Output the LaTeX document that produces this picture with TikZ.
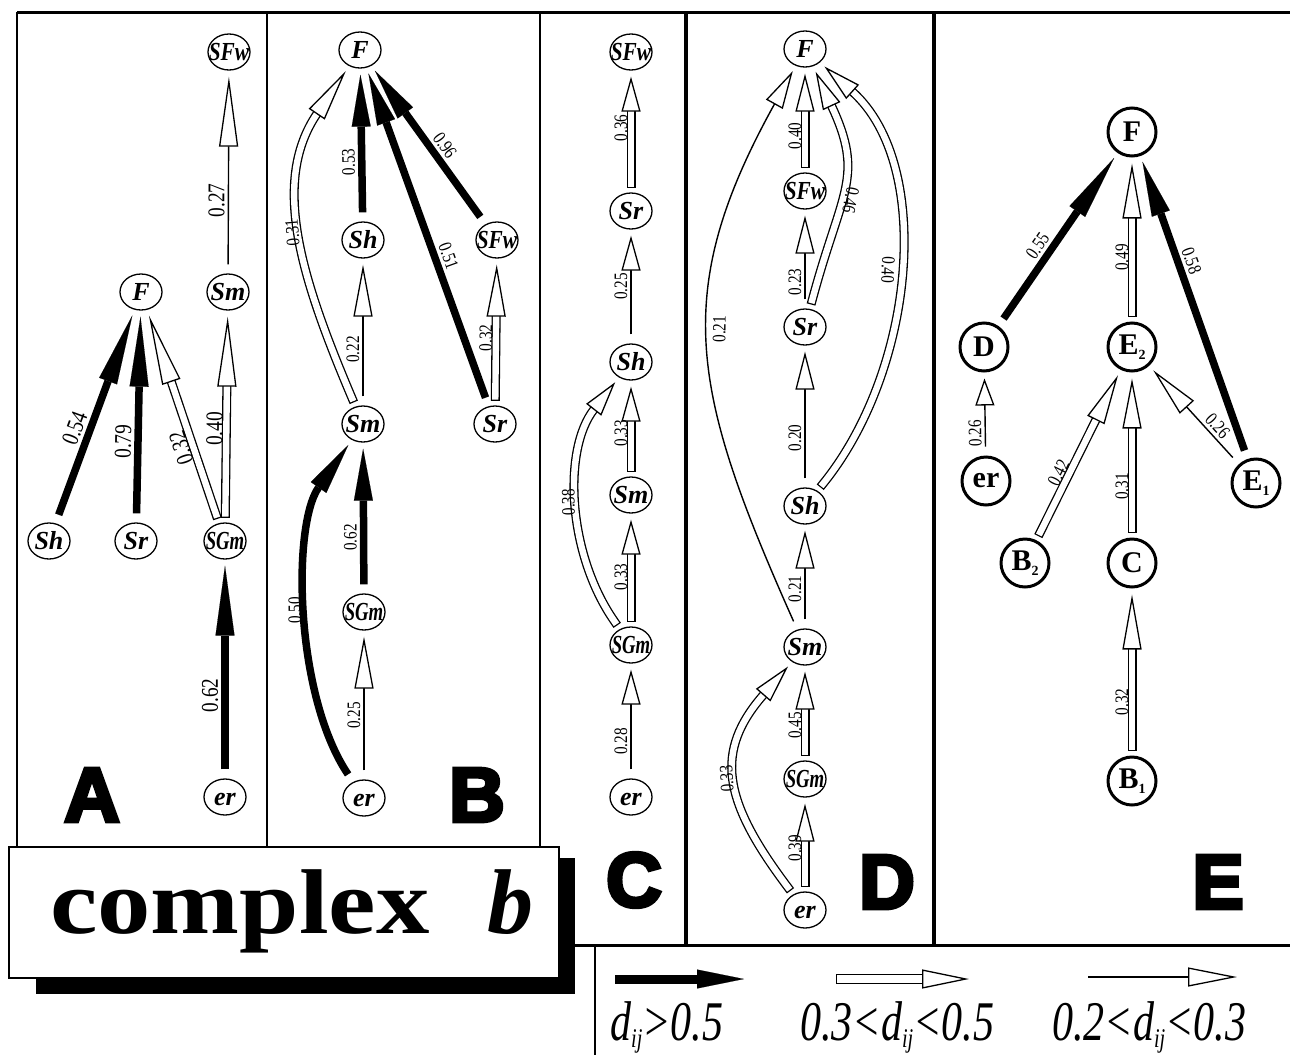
\documentclass[tikz,border=0pt]{standalone}
\usepackage{fontspec}
\setmainfont{Liberation Serif}
\newfontfamily\heavy{Liberation Sans}[FakeBold=5]
\usetikzlibrary{arrows.meta,shapes.geometric}
\newcommand\elab[1]{\scalebox{0.8}[1]{#1}}
\newcommand\flab[1]{\rotatebox{180}{\scalebox{0.8}[1]{#1}}}
\newcommand\sbs[1]{\raisebox{-5pt}{\fontsize{14}{14}\selectfont #1}}
\newcommand\nn[1]{\makebox[0pt]{#1}}
\newcommand\dsub{\raisebox{-7pt}{\fontsize{27}{27}\selectfont ij}}
\begin{document}
\begin{tikzpicture}[x=1pt,y=1pt,
  nd/.style={ellipse, draw, line width=1.3pt, minimum width=42pt, minimum height=36pt, inner sep=0pt, text height=17pt, text depth=0pt, font=\fontsize{26}{26}\selectfont\bfseries\itshape},
  ne/.style={circle, draw, line width=3pt, minimum size=48pt, inner sep=0pt, font=\fontsize{30}{30}\selectfont\bfseries},
  lb/.style={font=\fontsize{19}{19}\selectfont, sloped, allow upside down, inner sep=3pt},
  lbA/.style={font=\fontsize{24}{24}\selectfont, sloped, allow upside down, inner sep=3pt},
  ablk/.style={line width=7.5pt, shorten <=9pt, shorten >=6pt, -{Triangle[length=#1, width=19pt, line width=0.1pt]}},
  adbl/.style={double=white, double distance=6.4pt, line width=1.3pt, line cap=rect, shorten <=9pt, shorten >=6pt, -{Triangle[length=#1, width=19pt, fill=white, line width=1.3pt]}},
  athn/.style={line width=1.4pt, shorten <=9pt, shorten >=6pt, -{Triangle[length=#1, width=19pt, fill=white, line width=1.3pt]}},
  big/.style={font=\heavy\bfseries\fontsize{77}{77}\selectfont, inner sep=0pt},
  leg/.style={font=\itshape\fontsize{56}{56}\selectfont, anchor=base west, inner sep=0pt},
]
\useasboundingbox (0,0) rectangle (1290,-1055);

% frame
\draw[line width=3pt] (17,-12) -- (1290,-12);
\draw[line width=2pt] (17,-12) -- (17,-846);
\draw[line width=1.5pt] (267,-12) -- (267,-846);
\draw[line width=1.5pt] (540,-12) -- (540,-846);
\draw[line width=4pt] (686,-12) -- (686,-945);
\draw[line width=4pt] (934,-12) -- (934,-945);
\draw[line width=3pt] (575,-945) -- (1290,-945);
\draw[line width=1.5pt] (595,-945) -- (595,-1055);

% title box
\fill (36,-858) rectangle (575,-994);
\node[draw, line width=2pt, fill=white, anchor=north west, minimum width=550pt, minimum height=131pt, inner sep=0pt] (cbox) at (8,-846) {};
\node[anchor=base west, inner sep=0pt, font=\bfseries\fontsize{92}{92}\selectfont] (ctext) at (50,-933) {\scalebox{1.16}[1]{complex}};
\node[anchor=base west, inner sep=0pt, font=\bfseries\itshape\fontsize{92}{92}\selectfont] (btext) at (487,-933) {b};

% panel letters
\node[big] (lA) at (92,-795) {A};
\node[big] (lB) at (477,-795) {B};
\node[big] (lC) at (634,-880) {C};
\node[big] (lD) at (887,-882) {D};
\node[big] (lE) at (1218,-882) {E};

% ---------- panel A
\node[nd] (aSFw) at (229,-52) {\nn{\scalebox{0.82}[1]{SFw}}};
\node[nd] (aF) at (141,-292) {\nn{F}};
\node[nd] (aSm) at (228,-292) {\nn{Sm}};
\node[nd] (aSh) at (49,-541) {\nn{Sh}};
\node[nd] (aSr) at (136,-541) {\nn{Sr}};
\node[nd] (aSGm) at (225,-541) {\nn{\scalebox{0.72}[1]{SGm}}};
\node[nd] (aer) at (225,-797) {\nn{er}};
\draw[ablk=70pt] (aSh) -- node[lbA, above, pos=.42]{\elab{0.54}} (aF);
\draw[ablk=70pt] (aSr) -- node[lbA, above, pos=.38]{\elab{0.79}} (aF);
\draw[adbl=70pt] (aSGm) -- node[lbA, above, pos=.37]{\elab{0.32}} (aF);
\draw[adbl=70pt] (aSGm) -- node[lbA, above, pos=.44]{\elab{0.40}} (aSm);
\draw[athn=70pt] (aSm) -- node[lbA, above, pos=.36]{\elab{0.27}} (aSFw);
\draw[ablk=70pt] (aer) -- node[lbA, above, pos=.38]{\elab{0.62}} (aSGm);

% ---------- panel B
\node[nd] (bF) at (360,-50) {\nn{F}};
\node[nd] (bSh) at (363,-240) {\nn{Sh}};
\node[nd] (bSFw) at (497,-240) {\nn{\scalebox{0.82}[1]{SFw}}};
\node[nd] (bSm) at (363,-424) {\nn{Sm}};
\node[nd] (bSr) at (495,-424) {\nn{Sr}};
\node[nd] (bSGm) at (364,-612) {\nn{\scalebox{0.72}[1]{SGm}}};
\node[nd] (ber) at (364,-798) {\nn{er}};
\draw[adbl=52pt] (bSm) to[out=113, in=-124, looseness=1.05] node[lb, above, pos=.5]{\elab{0.31}} (bF);
\draw[ablk=52pt] (bSh) -- node[lb, above, pos=.39]{\elab{0.53}} (bF);
\draw[athn=52pt] (bSm) -- node[lb, above, pos=.38]{\elab{0.22}} (bSh);
\draw[ablk=52pt] (bSr) -- node[lb, below, pos=.43]{\flab{0.51}} (bF);
\draw[ablk=52pt] (bSFw) -- node[lb, below, pos=.45]{\flab{0.96}} (bF);
\draw[adbl=52pt] (bSr) -- node[lb, above, pos=.46]{\elab{0.32}} (bSFw);
\draw[ablk=52pt] (ber) to[out=124, in=-125, looseness=0.78] node[lb, above, pos=.5]{\elab{0.50}} (bSm);
\draw[ablk=52pt] (bSGm) -- node[lb, above, pos=.37]{\elab{0.62}} (bSm);
\draw[athn=52pt] (ber) -- node[lb, above, pos=.43]{\elab{0.25}} (bSGm);

% ---------- panel C
\node[nd] (cSFw) at (631,-52) {\nn{\scalebox{0.82}[1]{SFw}}};
\node[nd] (cSr) at (631,-211) {\nn{Sr}};
\node[nd] (cSh) at (631,-362) {\nn{Sh}};
\node[nd] (cSm) at (631,-495) {\nn{Sm}};
\node[nd] (cSGm) at (631,-645) {\nn{\scalebox{0.72}[1]{SGm}}};
\node[nd] (cer) at (631,-797) {\nn{er}};
\draw[adbl=35pt] (cSr) -- node[lb, above, pos=.53]{\elab{0.36}} (cSFw);
\draw[athn=35pt] (cSh) -- node[lb, above, pos=.5]{\elab{0.25}} (cSr);
\draw[adbl=35pt] (cSm) -- node[lb, above, pos=.45]{\elab{0.33}} (cSh);
\draw[adbl=35pt] (cSGm) to[out=125, in=-128, looseness=0.93] node[lb, above, pos=.5]{\elab{0.38}} (cSh);
\draw[adbl=35pt] (cSGm) -- node[lb, above, pos=.44]{\elab{0.33}} (cSm);
\draw[athn=35pt] (cer) -- node[lb, above, pos=.32]{\elab{0.28}} (cSGm);

% ---------- panel D
\node[nd] (dF) at (805,-49) {\nn{F}};
\node[nd] (dSFw) at (805,-191) {\nn{\scalebox{0.82}[1]{SFw}}};
\node[nd] (dSr) at (805,-327) {\nn{Sr}};
\node[nd] (dSh) at (805,-506) {\nn{Sh}};
\node[nd] (dSm) at (805,-647) {\nn{Sm}};
\node[nd] (dSGm) at (805,-779) {\nn{\scalebox{0.72}[1]{SGm}}};
\node[nd] (der) at (805,-910) {\nn{er}};
\draw[adbl=38pt] (dSFw) -- node[lb, above, pos=.35]{\elab{0.40}} (dF);
\draw[athn=38pt] (dSr) -- node[lb, above, pos=.27]{\elab{0.23}} (dSFw);
\draw[adbl=38pt] (dSr) to[out=75, in=-65, looseness=1.29] node[lb, below, pos=.43]{\flab{0.46}} (dF);
\draw[athn=38pt] (dSh) -- node[lb, above, pos=.35]{\elab{0.20}} (dSr);
\draw[adbl=38pt] (dSh) to[out=51, in=-42, looseness=0.92] node[lb, above, pos=.5]{\flab{0.40}} (dF);
\draw[athn=38pt] (dSm) -- node[lb, above, pos=.38]{\elab{0.21}} (dSh);
\draw[athn=38pt] (dSm) to[out=114, in=-119, looseness=1.18] node[lb, below, pos=.53]{\elab{0.21}} (dF);
\draw[adbl=38pt] (dSGm) -- node[lb, above, pos=.37]{\elab{0.45}} (dSm);
\draw[adbl=38pt] (der) to[out=127, in=-131, looseness=1.3] node[lb, above, pos=.49]{\elab{0.33}} (dSm);
\draw[adbl=38pt] (der) -- node[lb, above, pos=.46]{\elab{0.39}} (dSGm);

% ---------- panel E
\node[ne] (eF) at (1132,-132) {F};
\node[ne] (eD) at (984,-347) {D};
\node[ne] (eE2) at (1132,-347) {E\sbs{2}};
\node[ne] (eer) at (986,-481) {er};
\node[ne] (eE1) at (1256,-483) {E\sbs{1}};
\node[ne] (eB2) at (1025,-563) {B\sbs{2}};
\node[ne] (eC) at (1132,-563) {C};
\node[ne] (eB1) at (1132,-781) {B\sbs{1}};
\draw[ablk=65pt] (eD) -- node[lb, above, pos=.42]{\elab{0.55}} (eF);
\draw[adbl=55pt] (eE2) -- node[lb, above, pos=.39]{\elab{0.49}} (eF);
\draw[ablk=55pt] (eE1) -- node[lb, below, pos=.64]{\flab{0.58}} (eF);
\draw[athn=27pt] (eer) -- node[lb, above, pos=.27]{\elab{0.26}} (eD);
\draw[adbl=50pt] (eB2) -- node[lb, above, pos=.37]{\elab{0.42}} (eE2);
\draw[adbl=50pt] (eC) -- node[lb, above, pos=.31]{\elab{0.31}} (eE2);
\draw[athn=50pt] (eE1) -- node[lb, below, pos=.32]{\flab{0.26}} (eE2);
\draw[adbl=55pt] (eB1) -- node[lb, above, pos=.32]{\elab{0.32}} (eC);

% ---------- legend
\coordinate (k1s) at (615,-979); \coordinate (k1e) at (744,-979);
\coordinate (k2s) at (841,-979); \coordinate (k2e) at (969,-979);
\coordinate (k3s) at (1088,-977); \coordinate (k3e) at (1237,-977);
\draw[ablk=47pt, line width=9pt, shorten <=0pt, shorten >=0pt] (k1s) -- (k1e);
\draw[adbl=47pt, double distance=7.5pt, shorten <=0pt, shorten >=0pt] (k2s) -- (k2e);
\draw[athn=49pt, shorten <=0pt, shorten >=0pt] (k3s) -- (k3e);
\node[leg] (t1) at (610,-1040) {\scalebox{0.75}[1]{d\dsub>0.5}};
\node[leg] (t2) at (800,-1040) {\scalebox{0.75}[1]{0.3<d\dsub<0.5}};
\node[leg] (t3) at (1052,-1040) {\scalebox{0.75}[1]{0.2<d\dsub<0.3}};
\end{tikzpicture}
\end{document}
